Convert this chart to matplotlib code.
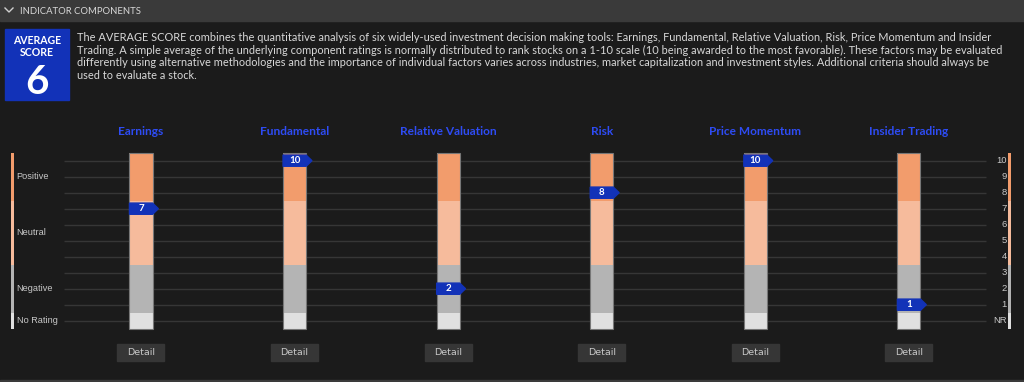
import numpy as np
import matplotlib.pyplot as plt
import matplotlib.patches as mpatches

# chart data
categories = ['Earnings', 'Fundamental', 'Relative Valuation', 'Risk', 'Price Momentum', 'Insider Trading']
scores = [7, 10, 2, 8, 10, 1]

band_names = ['No Rating', 'Negative', 'Neutral', 'Positive']
band_low = [-0.5, 0.5, 3.5, 7.5]
band_high = [0.5, 3.5, 7.5, 10.5]
band_colors = ['#e0e0e0', '#b4b4b4', '#f6bb9c', '#f29c6c']
band_label_pos = [0, 2, 5.5, 9]

tick_levels = list(range(0, 11))
tick_labels = ['NR', '1', '2', '3', '4', '5', '6', '7', '8', '9', '10']

avg_score = 6
desc_lines = [
    "The AVERAGE SCORE combines the quantitative analysis of six widely-used investment decision making tools: Earnings, Fundamental, Relative Valuation, Risk, Price Momentum and Insider",
    "Trading. A simple average of the underlying component ratings is normally distributed to rank stocks on a 1-10 scale (10 being awarded to the most favorable). These factors may be evaluated",
    "differently using alternative methodologies and the importance of individual factors varies across industries, market capitalization and investment styles. Additional criteria should always be",
    "used to evaluate a stock.",
]

BG = '#1b1b1b'
TXT = '#c8c8c8'
BLUE = '#1232b8'
FONT = ['Lato', 'DejaVu Sans']
plt.rcParams['font.family'] = FONT

fig = plt.figure(figsize=(10.24, 3.82), dpi=100, facecolor=BG)

# page furniture in pixel space
bg = fig.add_axes([0, 0, 1, 1], zorder=0)
bg.set_xlim(0, 1024)
bg.set_ylim(382, 0)
bg.axis('off')
bg.add_patch(mpatches.Rectangle((0, 0), 1024, 21, color='#3a3a3a'))
bg.plot([5, 9, 13], [8, 12, 8], color='#d0d0d0', lw=1)
bg.text(20, 11, 'INDICATOR COMPONENTS', color='#d8d8d8', fontsize=6.8, va='center')
bg.add_patch(mpatches.Rectangle((0, 380), 1024, 2, color='#3a3a3a'))

bg.add_patch(mpatches.Rectangle((5, 29), 64, 71, color=BLUE))
bg.text(37, 40, 'AVERAGE', color='white', fontsize=7.6, weight='bold', ha='center', va='center')
bg.text(37, 53, 'SCORE', color='white', fontsize=7.6, weight='bold', ha='center', va='center')
bg.text(37, 82, str(avg_score), color='white', fontsize=29, weight='bold', ha='center', va='center')
for i, line in enumerate(desc_lines):
    bg.text(77, 37.5 + 12.6 * i, line, color='#d8d8d8', fontsize=7.95, va='center')

# chart axes: x = category index, y = rating level
ax = fig.add_axes([0, 0, 1, 1], zorder=1)
ax.patch.set_alpha(0)
ax.set_xlim(-0.918, 5.749)
ax.set_ylim(-3.83, 20.04)
ax.axis('off')

x = np.arange(len(categories))
ax.hlines(tick_levels, -0.5, 5.5, color='#363636', lw=1, zorder=1)

bw = 0.15
for lo, hi, c in zip(band_low, band_high, band_colors):
    ax.bar(x, hi - lo, bottom=lo, width=bw, color=c, zorder=2)
ax.bar(x, band_high[-1] - band_low[0], bottom=band_low[0], width=bw, fill=False,
       edgecolor='#777777', lw=0.8, zorder=3)

# side strips and labels
for lo, hi, c, name, pos in zip(band_low, band_high, band_colors, band_names, band_label_pos):
    ax.bar([-0.836, 5.656], hi - lo, bottom=lo, width=0.018, color=c, zorder=2)
    ax.text(-0.81, pos, name, color=TXT, fontsize=6.6, va='center', family=['Liberation Sans', 'DejaVu Sans'])
for lv, lab in zip(tick_levels, tick_labels):
    ax.text(5.638, lv, lab, color=TXT, fontsize=6.8, va='center', ha='right', family=['Liberation Sans', 'DejaVu Sans'])

# score markers
mh = 0.35
for xi, s in zip(x, scores):
    l, r, tip = xi - bw / 2, xi + bw / 2, xi + bw / 2 + 0.038
    ax.add_patch(mpatches.Polygon([(l, s - mh), (r, s - mh), (tip, s), (r, s + mh), (l, s + mh)],
                                  closed=True, color=BLUE, zorder=4))
    ax.text(xi, s, str(s), color='white', fontsize=7, weight='bold', ha='center', va='center', zorder=5)

# titles and detail buttons
for xi, name in zip(x, categories):
    ax.text(xi, 11.8, name, color='#2e4cf5', fontsize=8.6, weight='bold', ha='center', va='center')
    ax.add_patch(mpatches.Rectangle((xi - 0.153, -2.52), 0.306, 1.06, color='#363636'))
    ax.text(xi, -1.99, 'Detail', color=TXT, fontsize=6.8, ha='center', va='center',
            family=['Liberation Sans Narrow', 'DejaVu Sans'])

fig.savefig('out.png', dpi=100, facecolor=BG)
